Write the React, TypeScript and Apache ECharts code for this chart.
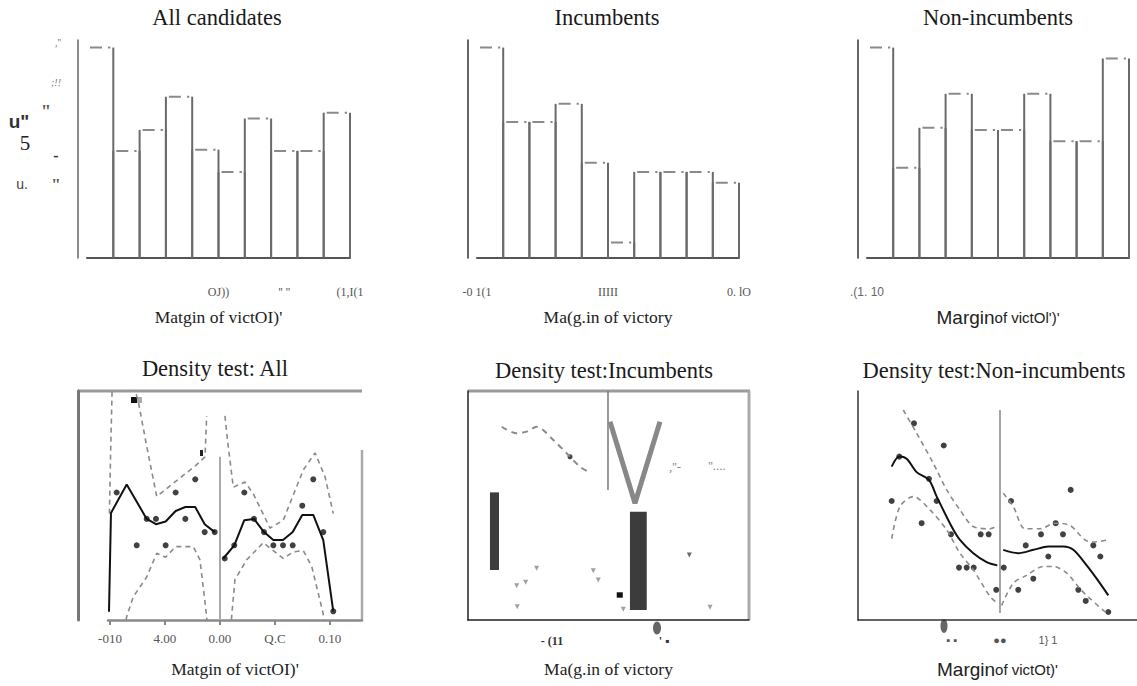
import React, { useEffect, useRef } from "react";
import * as echarts from "echarts";

const SERIF = "'Liberation Serif', 'Times New Roman', serif";
const SANS = "'Liberation Sans', Arial, sans-serif";

// ---------- titles & axis names ----------
const panelTitles = [
  "All candidates",
  "Incumbents",
  "Non-incumbents",
  "Density test: All",
  "Density test:Incumbents",
  "Density test:Non-incumbents",
];
const axisNameSerif1 = "Matgin of victOI)'";
const axisNameSerif2 = "Ma(g.in of victory";
const axisNameSans3 = ["Margin", "of victOl')'"];
const axisNameSans6 = ["Margin", "of victOt)'"];

// ---------- top row: histograms ----------
const binEdges = [-0.1, -0.08, -0.06, -0.04, -0.02, 0, 0.02, 0.04, 0.06, 0.08, 0.1];
const histAll = [50.1, 25.5, 30.5, 38.4, 25.8, 20.5, 33.2, 25.5, 25.5, 34.6];
const histInc = [50.1, 32.4, 32.4, 36.7, 22.7, 3.7, 20.5, 20.5, 20.5, 17.9];
const histNon = [50.1, 21.5, 31.0, 39.1, 30.5, 30.5, 39.1, 27.8, 27.8, 47.5];

const ticksTop1 = [0, 0.05, 0.1];
const labelsTop1 = ["OJ))", "'' ''", "(1,I(1"];
const ticksTop2 = [-0.1, 0, 0.1];
const labelsTop2 = ["-0 1(1", "IIIII", "0. lO"];
const ticksTop3 = [-0.1];
const labelsTop3 = [".(1. 10"];

// y-axis label fragments of the first histogram
const yLabelBits = [",''", ";!!", '"', 'u"', "5", "-", "u.", '"'];

// ---------- bottom-left: density test, all ----------
const allPoints = [
  [-0.0939, 10], [-0.0757, 6], [-0.0666, 8], [-0.0582, 8], [-0.0494, 6], [-0.0403, 10],
  [-0.0315, 8], [-0.0225, 11], [-0.0139, 7], [-0.0048, 7], [0.0043, 5], [0.013, 6],
  [0.0221, 10], [0.0309, 8], [0.04, 7], [0.0485, 6], [0.0573, 6], [0.0661, 6],
  [0.0748, 9], [0.0848, 11], [0.0939, 7], [0.103, 1],
];
const allFitLeft = [
  [-0.1009, 0.97], [-0.0991, 8.45], [-0.0848, 10.6], [-0.0666, 8.0], [-0.0582, 7.6],
  [-0.0494, 7.8], [-0.0403, 8.6], [-0.0315, 8.9], [-0.0225, 8.9], [-0.0139, 7.6], [-0.0048, 7.0],
];
const allFitRight = [
  [0.003, 5.0], [0.013, 6.0], [0.0221, 7.9], [0.0309, 8.0], [0.04, 7.0], [0.0485, 6.4],
  [0.0573, 6.4], [0.0661, 7.0], [0.0748, 8.3], [0.0848, 8.3], [0.0939, 6.4], [0.103, 1.0],
];
const allUpperLeft = [
  [-0.1005, 8.4], [-0.0995, 12.7], [-0.098, 18], [-0.094, 22], [-0.0745, 17], [-0.0666, 13.5],
  [-0.0575, 9.7], [-0.0394, 10.9], [-0.0227, 12.0], [-0.0136, 12.7], [-0.0121, 15.8],
];
const allLowerLeft = [
  [-0.088, -1], [-0.0848, 0.6], [-0.0788, 2.1], [-0.0666, 3.6], [-0.0575, 5.4], [-0.0494, 5.1],
  [-0.0403, 5.9], [-0.0243, 5.9], [-0.0182, 4.9], [-0.0121, 0.6], [-0.011, -1],
];
const allUpperRight = [
  [0.0045, 15.8], [0.0075, 13.5], [0.0121, 10.4], [0.0227, 10.8], [0.0303, 9.9],
  [0.0455, 7.3], [0.0575, 7.9], [0.0757, 11.7], [0.0864, 13.0], [0.0955, 11.2], [0.103, 8.4],
];
const allLowerRight = [
  [0.0095, -1], [0.0106, 0.6], [0.0136, 3.4], [0.0243, 4.9], [0.0394, 6.2], [0.0575, 5.0],
  [0.0666, 5.5], [0.0757, 5.6], [0.0834, 4.4], [0.0939, 0.8], [0.095, -1],
];
const allCutoff = [[0, 0.34], [0, 12.7]];
const ticksAll = [-0.1, -0.05, 0, 0.05, 0.1];
const labelsAll = ["-010", "4.00", "0.00", "Q.C", "0.10"];

// ---------- bottom-middle: density test, incumbents ----------
const incDashed = [
  [-0.0949, 14.64], [-0.0815, 14.14], [-0.0726, 14.27], [-0.0637, 14.64],
  [-0.0488, 13.64], [-0.0369, 12.63], [-0.025, 11.61], [-0.0176, 11.24],
];
const incDot = [[-0.0339, 12.37]];
const incV = [[0.0018, 15.02], [0.0241, 8.84], [0.0464, 15.02]];
const incCutoff = [[0, 9.85], [0, 17.35]];
const incBlocks = [
  [-0.1054, -0.0973, 3.79, 9.67],
  [0.0196, 0.0346, 0.76, 8.2],
];
const incSmallBlock = [[0.0078, 0.0132, 1.69, 2.1]];
const incDrops = [
  [-0.0815, 2.6], [-0.0735, 2.86], [-0.0637, 3.92], [-0.081, 1.0],
  [-0.0131, 3.73], [-0.0087, 3.03], [0.0137, 0.81], [0.0911, 0.96],
];
const incDarkDrop = [[0.0726, 4.92]];
const ticksInc = [-0.05, 0.05];
const labelsInc = ["- (11", "' \u25aa"];

// ---------- bottom-right: density test, non-incumbents ----------
const nonPoints = [
  [-0.0896, 18], [-0.1049, 15], [-0.1128, 11], [-0.0586, 16], [-0.074, 13], [-0.066, 11],
  [-0.0816, 9], [-0.051, 8], [-0.0201, 8], [-0.0118, 8], [-0.0427, 5], [-0.0347, 5],
  [-0.0274, 5], [-0.0039, 3], [0.0039, 5], [0.0115, 11], [0.019, 3], [0.0268, 7],
  [0.0347, 4], [0.0427, 8], [0.0503, 6], [0.058, 9], [0.0656, 8], [0.0736, 12],
  [0.0816, 3], [0.0893, 2], [0.0972, 7], [0.1045, 6], [0.1128, 1],
];
const nonFitLeft = [
  [-0.1128, 14.1], [-0.1049, 15.0], [-0.0972, 14.8], [-0.0868, 13.6], [-0.074, 12.9],
  [-0.0659, 11.4], [-0.051, 8.8], [-0.0417, 7.5], [-0.0278, 6.3], [-0.0139, 5.5], [-0.0028, 5.2],
];
const nonFitRight = [
  [0.0034, 6.6], [0.0191, 6.3], [0.0347, 6.6], [0.0503, 6.9], [0.0659, 6.9],
  [0.0764, 6.6], [0.0903, 5.2], [0.1007, 4.0], [0.1128, 2.5],
];
const nonUpperLeft = [
  [-0.1007, 19.2], [-0.0868, 17.1], [-0.0695, 14.4], [-0.0555, 12.0], [-0.0417, 10.2],
  [-0.0278, 8.7], [-0.0104, 8.5], [-0.0028, 8.8],
];
const nonLowerLeft = [
  [-0.1128, 7.6], [-0.1042, 10.5], [-0.0903, 11.4], [-0.0729, 10.2], [-0.0555, 8.4],
  [-0.0417, 6.3], [-0.0278, 4.8], [-0.0104, 2.4], [-0.0028, 1.8],
];
const nonUpperRight = [
  [0.0034, 11.7], [0.0139, 10.5], [0.026, 8.5], [0.0417, 8.5], [0.0573, 9.0],
  [0.0729, 8.8], [0.0885, 7.5], [0.0972, 7.3], [0.1128, 7.5],
];
const nonLowerRight = [
  [0.0018, 1.6], [0.0139, 3.6], [0.0278, 4.3], [0.0451, 5.1], [0.0555, 5.1],
  [0.0695, 4.5], [0.0833, 3.1], [0.0938, 2.2], [0.1111, 0.9],
];
const nonCutoff = [[0, 0.9], [0, 19.2]];
const ticksNon = [-0.05, 0, 0.05];
const labelsNon = ["\u25aa \u25aa", "\u25cf\u25cf", "1} 1"];

// ---------------------------------------------------------------
function labelFor(ticks: number[], labels: string[]) {
  return (v: number) => {
    const k = ticks.findIndex((t) => Math.abs(t - v) < 1e-6);
    return k >= 0 ? labels[k] : "";
  };
}

function histSeries(values: number[], idx: number) {
  return {
    type: "custom",
    xAxisIndex: idx,
    yAxisIndex: idx,
    silent: true,
    clip: false,
    encode: { x: [0, 1], y: 2 },
    data: values.map((h, i) => [binEdges[i], binEdges[i + 1], h]),
    renderItem: (p: any, api: any) => {
      const tl = api.coord([api.value(0), api.value(2)]);
      const br = api.coord([api.value(1), 0]);
      const edge = { stroke: "#6a6a6a", lineWidth: 2 };
      const children: any[] = [
        { type: "line", shape: { x1: br[0], y1: tl[1], x2: br[0], y2: br[1] }, style: edge },
        {
          type: "line",
          shape: { x1: tl[0] + 3, y1: tl[1], x2: br[0] - 3, y2: tl[1] },
          style: { stroke: "#8a8a8a", lineWidth: 2, lineDash: [12, 6] },
        },
      ];
      if (p.dataIndex > 0) {
        children.push({ type: "line", shape: { x1: tl[0], y1: tl[1], x2: tl[0], y2: br[1] }, style: edge });
      }
      return { type: "group", children };
    },
  };
}

function blockSeries(blocks: number[][], idx: number, color: string) {
  return {
    type: "custom",
    xAxisIndex: idx,
    yAxisIndex: idx,
    silent: true,
    encode: { x: [0, 1], y: [2, 3] },
    data: blocks,
    renderItem: (_p: any, api: any) => {
      const a = api.coord([api.value(0), api.value(3)]);
      const b = api.coord([api.value(1), api.value(2)]);
      return {
        type: "rect",
        shape: { x: a[0], y: a[1], width: b[0] - a[0], height: b[1] - a[1] },
        style: { fill: color },
      };
    },
  };
}

function lineSeries(data: number[][], idx: number, style: any, smooth: number | boolean = false) {
  return {
    type: "line",
    xAxisIndex: idx,
    yAxisIndex: idx,
    data,
    symbol: "none",
    showSymbol: false,
    silent: true,
    clip: true,
    smooth,
    lineStyle: style,
  };
}

function scatterSeries(data: number[][], idx: number, size: number, color: string, symbol = "circle", rotate = 0) {
  return {
    type: "scatter",
    xAxisIndex: idx,
    yAxisIndex: idx,
    data,
    symbol,
    symbolRotate: rotate,
    symbolSize: size,
    silent: true,
    itemStyle: { color },
  };
}

function txt(text: string, x: number, y: number, size: number, color: string, family = SERIF, weight: any = "normal", style = "normal") {
  return {
    type: "text",
    silent: true,
    x,
    y,
    style: {
      legacy: false,
      text,
      fill: color,
      fontSize: size,
      fontFamily: family,
      fontWeight: weight,
      fontStyle: style,
      align: "center",
      verticalAlign: "middle",
    },
  };
}

function gline(x1: number, y1: number, x2: number, y2: number, color: string, width: number) {
  return { type: "line", silent: true, shape: { x1, y1, x2, y2 }, style: { stroke: color, lineWidth: width } };
}

function buildOption() {
  const dashed = { color: "#8a8a8a", width: 1.6, type: [5, 4] };
  const solid = { color: "#111", width: 2 };
  const serifName = { fontSize: 17.5, fontFamily: SERIF, color: "#222" };
  const sansRich = {
    rich: {
      a: { fontSize: 19, fontFamily: SANS, color: "#222" },
      b: { fontSize: 15, fontFamily: SANS, color: "#222" },
    },
  };

  const topX = (ticks: number[], labels: string[], family = SERIF, color = "#555") => ({
    type: "value",
    min: -0.1,
    max: 0.1,
    splitLine: { show: false },
    axisLine: { show: true, onZero: false, lineStyle: { color: "#555", width: 2 } },
    axisTick: { show: false },
    axisLabel: {
      show: true,
      customValues: ticks,
      margin: 28,
      fontSize: 12,
      fontFamily: family,
      color,
      formatter: labelFor(ticks, labels),
    },
    nameLocation: "middle",
  });
  const topY = {
    type: "value",
    min: 0,
    max: 51.9,
    offset: 9,
    splitLine: { show: false },
    axisTick: { show: false },
    axisLabel: { show: false },
  };

  const xAxis: any[] = [
    { ...topX(ticksTop1, labelsTop1), gridIndex: 0, name: axisNameSerif1, nameGap: 50, nameTextStyle: serifName },
    { ...topX(ticksTop2, labelsTop2), gridIndex: 1, name: axisNameSerif2, nameGap: 50, nameTextStyle: serifName },
    {
      ...topX(ticksTop3, labelsTop3, SANS, "#666"),
      gridIndex: 2,
      name: `{a|${axisNameSans3[0]}}{b|${axisNameSans3[1]}}`,
      nameGap: 50,
      nameTextStyle: sansRich,
    },
    {
      gridIndex: 3,
      type: "value",
      min: -0.1018,
      max: 0.1291,
      splitLine: { show: false },
      axisLine: { show: true, onZero: false, lineStyle: { color: "#8a8a8a", width: 2.5 } },
      axisTick: { show: true, customValues: ticksAll, length: 5, lineStyle: { color: "#888", width: 2 } },
      axisLabel: {
        customValues: ticksAll,
        margin: 12,
        fontSize: 13,
        fontFamily: SERIF,
        color: "#555",
        formatter: labelFor(ticksAll, labelsAll),
      },
      name: axisNameSerif1,
      nameLocation: "middle",
      nameGap: 40,
      nameTextStyle: serifName,
    },
    {
      gridIndex: 4,
      type: "value",
      min: -0.125,
      max: 0.1259,
      splitLine: { show: false },
      axisLine: { show: true, onZero: false, lineStyle: { color: "#222", width: 1.5 } },
      axisTick: { show: false },
      axisLabel: {
        customValues: ticksInc,
        margin: 15,
        fontSize: 12,
        fontWeight: "bold",
        fontFamily: SERIF,
        color: "#333",
        formatter: labelFor(ticksInc, labelsInc),
      },
      name: axisNameSerif2,
      nameLocation: "middle",
      nameGap: 40,
      nameTextStyle: serifName,
    },
    {
      gridIndex: 5,
      type: "value",
      min: -0.1479,
      max: 0.1427,
      splitLine: { show: false },
      axisLine: { show: true, onZero: false, lineStyle: { color: "#333", width: 1.5 } },
      axisTick: { show: false },
      axisLabel: {
        customValues: ticksNon,
        margin: 14,
        fontSize: 11,
        fontFamily: SANS,
        color: "#555",
        formatter: labelFor(ticksNon, labelsNon),
      },
      name: `{a|${axisNameSans6[0]}}{b|${axisNameSans6[1]}}`,
      nameLocation: "middle",
      nameGap: 40,
      nameTextStyle: sansRich,
    },
  ];

  const yAxis: any[] = [
    { ...topY, gridIndex: 0, axisLine: { show: true, onZero: false, lineStyle: { color: "#666", width: 1.5 } } },
    { ...topY, gridIndex: 1, axisLine: { show: true, onZero: false, lineStyle: { color: "#333", width: 1.5 } } },
    { ...topY, gridIndex: 2, axisLine: { show: true, onZero: false, lineStyle: { color: "#333", width: 1.5 } } },
    {
      gridIndex: 3, type: "value", min: 0.34, max: 17.69, offset: 30,
      splitLine: { show: false }, axisTick: { show: false }, axisLabel: { show: false },
      axisLine: { show: true, onZero: false, lineStyle: { color: "#777", width: 3 } },
    },
    {
      gridIndex: 4, type: "value", min: 0, max: 17.35,
      splitLine: { show: false }, axisTick: { show: false }, axisLabel: { show: false },
      axisLine: { show: true, onZero: false, lineStyle: { color: "#222", width: 1.5 } },
    },
    {
      gridIndex: 5, type: "value", min: 0.28, max: 20.91,
      splitLine: { show: false }, axisTick: { show: false }, axisLabel: { show: false },
      axisLine: { show: true, onZero: false, lineStyle: { color: "#333", width: 1.5 } },
    },
  ];

  const grid = [
    { left: 87, top: 40, width: 263, height: 218 },
    { left: 477, top: 40, width: 262, height: 218 },
    { left: 867, top: 40, width: 262, height: 218 },
    { left: 108, top: 391, width: 254, height: 229 },
    { left: 468, top: 391, width: 281, height: 229 },
    { left: 858, top: 391, width: 279, height: 229 },
  ];

  const series: any[] = [
    histSeries(histAll, 0),
    histSeries(histInc, 1),
    histSeries(histNon, 2),

    // density: all
    lineSeries(allCutoff, 3, { color: "#aaa", width: 2 }),
    lineSeries(allUpperLeft, 3, dashed),
    lineSeries(allLowerLeft, 3, dashed),
    lineSeries(allUpperRight, 3, dashed),
    lineSeries(allLowerRight, 3, dashed),
    lineSeries(allFitLeft, 3, solid),
    lineSeries(allFitRight, 3, solid),
    scatterSeries(allPoints, 3, 6, "#111"),

    // density: incumbents
    lineSeries(incCutoff, 4, { color: "#777", width: 1.5 }),
    lineSeries(incDashed, 4, { color: "#8a8a8a", width: 2, type: [6, 5] }, 0.3),
    lineSeries(incV, 4, { color: "#888", width: 5 }),
    scatterSeries(incDot, 4, 5, "#111"),
    blockSeries(incBlocks, 4, "#3c3c3c"),
    blockSeries(incSmallBlock, 4, "#111"),
    scatterSeries(incDrops, 4, 5, "#888", "triangle", 180),
    scatterSeries(incDarkDrop, 4, 5, "#444", "triangle", 180),

    // density: non-incumbents
    lineSeries(nonCutoff, 5, { color: "#888", width: 1.5 }),
    lineSeries(nonUpperLeft, 5, dashed, 0.3),
    lineSeries(nonLowerLeft, 5, dashed, 0.3),
    lineSeries(nonUpperRight, 5, dashed, 0.3),
    lineSeries(nonLowerRight, 5, dashed, 0.3),
    lineSeries(nonFitLeft, 5, solid, 0.3),
    lineSeries(nonFitRight, 5, solid, 0.3),
    scatterSeries(nonPoints, 5, 6, "#111"),
  ];

  const T = 22.5;
  const graphic: any[] = [
    // titles
    txt(panelTitles[0], 217, 17, T, "#1a1a1a"),
    txt(panelTitles[1], 607, 17, T, "#1a1a1a"),
    txt(panelTitles[2], 998, 17, T, "#1a1a1a"),
    txt(panelTitles[3], 215, 368, T, "#1a1a1a"),
    txt(panelTitles[4], 604, 370, T, "#1a1a1a"),
    txt(panelTitles[5], 994, 370, T, "#1a1a1a"),
    // y label fragments, first histogram
    txt(yLabelBits[0], 58, 42, 10, "#777"),
    txt(yLabelBits[1], 56, 82, 10, "#777", SERIF, "normal", "italic"),
    txt(yLabelBits[2], 46, 112, 18, "#555", SERIF, "bold"),
    txt(yLabelBits[3], 19, 121, 19, "#333", SANS, "bold"),
    txt(yLabelBits[4], 25, 143, 21, "#222"),
    txt(yLabelBits[5], 56, 155, 16, "#333", SERIF, "bold"),
    txt(yLabelBits[6], 22, 184, 14, "#444", SANS),
    txt(yLabelBits[7], 56, 184, 17, "#555", SERIF, "bold"),
    // frames
    gline(78, 391, 362, 391, "#9a9a9a", 3),
    gline(362, 450, 362, 620, "#aaa", 2.5),
    gline(468, 391, 750, 391, "#9a9a9a", 3),
    gline(749, 391, 749, 620, "#aaa", 3),
    // artefacts
    { type: "rect", silent: true, shape: { x: 131, y: 397, width: 6, height: 6 }, style: { fill: "#111" } },
    { type: "rect", silent: true, shape: { x: 137, y: 397, width: 5, height: 6 }, style: { fill: "#aaa" } },
    { type: "rect", silent: true, shape: { x: 200, y: 450, width: 3, height: 6 }, style: { fill: "#222" } },
    txt(",''-", 675, 466, 13, "#888"),
    txt("''....", 717, 465, 13, "#888"),
    { type: "ellipse", silent: true, shape: { cx: 657, cy: 628, rx: 4, ry: 6.5 }, style: { fill: "#666" } },
    { type: "ellipse", silent: true, shape: { cx: 944, cy: 626, rx: 3.5, ry: 7 }, style: { fill: "#666" } },
  ];

  return { animation: false, backgroundColor: "#fff", grid, xAxis, yAxis, series, graphic };
}

export default function App() {
  const ref = useRef<HTMLDivElement>(null);
  useEffect(() => {
    if (!ref.current) return;
    const chart = echarts.init(ref.current, undefined, { renderer: "svg" });
    chart.setOption(buildOption() as any);
    return () => chart.dispose();
  }, []);
  return (
    <div
      ref={ref}
      style={{ position: "fixed", left: 0, top: 0, width: 1137, height: 686, background: "#fff" }}
    />
  );
}
